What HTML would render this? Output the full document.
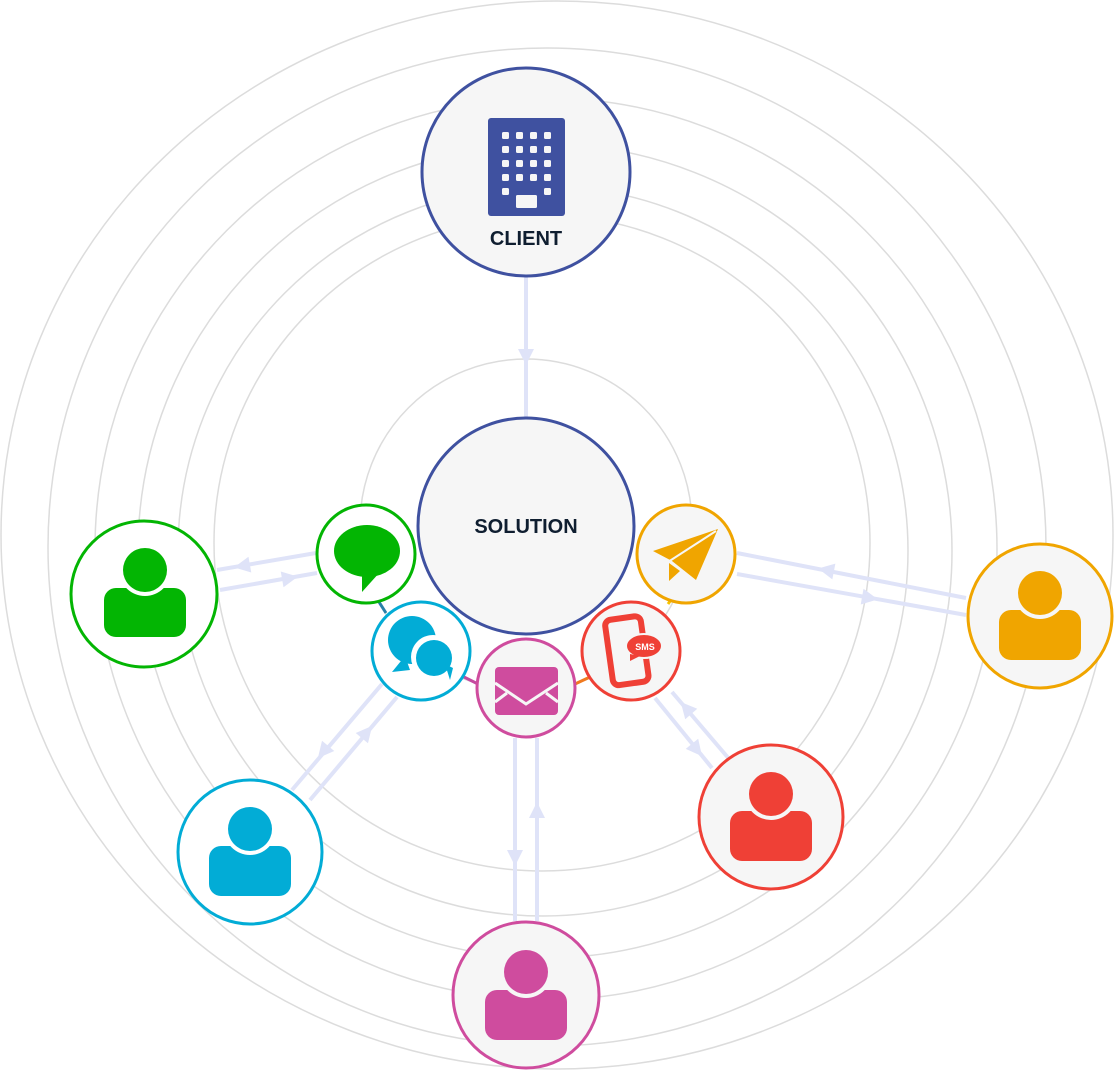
<!DOCTYPE html>
<html><head><meta charset="utf-8"><style>
html,body{margin:0;padding:0;background:#fff;}
svg{display:block;}
</style></head><body>
<svg width="1115" height="1071" viewBox="0 0 1115 1071" xmlns="http://www.w3.org/2000/svg">
<g fill="none" stroke="#dcdcdc" stroke-width="1.5">
<ellipse cx="557" cy="535" rx="556" ry="534"/>
<circle cx="547" cy="547" r="499"/>
<circle cx="546" cy="549" r="451"/>
<circle cx="545" cy="551" r="407"/>
<circle cx="543" cy="551" r="365"/>
<circle cx="542" cy="543" r="328"/>
<circle cx="526" cy="525" r="166"/>
</g>
<g stroke="#dfe3f8" stroke-width="4" fill="none">
<line x1="526" y1="277" x2="526" y2="417"/>
<line x1="316" y1="553" x2="217" y2="570"/>
<line x1="220" y1="590" x2="317" y2="573"/>
<line x1="966" y1="598" x2="737" y2="553"/>
<line x1="737" y1="574" x2="966" y2="615"/>
<line x1="382" y1="684" x2="292" y2="790"/>
<line x1="310" y1="800" x2="397" y2="697"/>
<line x1="515" y1="738" x2="515" y2="921"/>
<line x1="537" y1="738" x2="537" y2="921"/>
<line x1="655" y1="698" x2="712" y2="768"/>
<line x1="730" y1="760" x2="672" y2="692"/>
</g>
<g fill="#dfe3f8">
<polygon points="-8,-8 8,0 -8,8" transform="translate(526,357) rotate(90)"/>
<polygon points="-8,-8 8,0 -8,8" transform="translate(242,566) rotate(170)"/>
<polygon points="-8,-8 8,0 -8,8" transform="translate(290,578) rotate(-10)"/>
<polygon points="-8,-8 8,0 -8,8" transform="translate(826,570) rotate(191)"/>
<polygon points="-8,-8 8,0 -8,8" transform="translate(870,598) rotate(10)"/>
<polygon points="-8,-8 8,0 -8,8" transform="translate(323,752) rotate(130)"/>
<polygon points="-8,-8 8,0 -8,8" transform="translate(367,732) rotate(-50)"/>
<polygon points="-8,-8 8,0 -8,8" transform="translate(515,858) rotate(90)"/>
<polygon points="-8,-8 8,0 -8,8" transform="translate(537,810) rotate(-90)"/>
<polygon points="-8,-8 8,0 -8,8" transform="translate(697,750) rotate(51)"/>
<polygon points="-8,-8 8,0 -8,8" transform="translate(686,708) rotate(229)"/>
</g>
<!-- small connectors -->
<line x1="379" y1="602" x2="386" y2="613" stroke="#2a7fa8" stroke-width="3"/>
<line x1="462" y1="676" x2="478" y2="684" stroke="#c44aa0" stroke-width="3"/>
<line x1="575" y1="684" x2="590" y2="677" stroke="#f07a20" stroke-width="3"/>
<line x1="668" y1="604" x2="674" y2="596" stroke="#f5c400" stroke-width="3"/>
<!-- client -->
<circle cx="526" cy="172" r="104" fill="#f6f6f6" stroke="#3f51a0" stroke-width="3"/>
<rect x="488" y="118" width="77" height="98" rx="3" fill="#3f51a0"/>
<g fill="#f6f6f6">
<rect x="502" y="132" width="7" height="7" rx="1.5"/><rect x="516" y="132" width="7" height="7" rx="1.5"/><rect x="530" y="132" width="7" height="7" rx="1.5"/><rect x="544" y="132" width="7" height="7" rx="1.5"/>
<rect x="502" y="146" width="7" height="7" rx="1.5"/><rect x="516" y="146" width="7" height="7" rx="1.5"/><rect x="530" y="146" width="7" height="7" rx="1.5"/><rect x="544" y="146" width="7" height="7" rx="1.5"/>
<rect x="502" y="160" width="7" height="7" rx="1.5"/><rect x="516" y="160" width="7" height="7" rx="1.5"/><rect x="530" y="160" width="7" height="7" rx="1.5"/><rect x="544" y="160" width="7" height="7" rx="1.5"/>
<rect x="502" y="174" width="7" height="7" rx="1.5"/><rect x="516" y="174" width="7" height="7" rx="1.5"/><rect x="530" y="174" width="7" height="7" rx="1.5"/><rect x="544" y="174" width="7" height="7" rx="1.5"/>
<rect x="502" y="188" width="7" height="7" rx="1.5"/><rect x="544" y="188" width="7" height="7" rx="1.5"/>
<rect x="516" y="195" width="21" height="13" rx="1.5"/>
</g>
<text x="526" y="245" text-anchor="middle" font-family="Liberation Sans, sans-serif" font-weight="bold" font-size="20" fill="#0f1e30">CLIENT</text>
<!-- solution -->
<circle cx="526" cy="526" r="108" fill="#f6f6f6" stroke="#3f51a0" stroke-width="3"/>
<text x="526" y="533" text-anchor="middle" font-family="Liberation Sans, sans-serif" font-weight="bold" font-size="20" fill="#0f1e30">SOLUTION</text>
<!-- green chat -->
<circle cx="366" cy="554" r="49" fill="#fff" stroke="#03b503" stroke-width="3"/>
<ellipse cx="367" cy="551" rx="33" ry="26" fill="#03b503"/>
<polygon points="362,570 380,572 362,592" fill="#03b503"/>
<!-- cyan -->
<circle cx="421" cy="651" r="49" fill="#fff" stroke="#02acd6" stroke-width="3"/>
<circle cx="412" cy="640" r="24" fill="#02acd6"/>
<polygon points="392,672 405,656 410,670" fill="#02acd6"/>
<circle cx="433" cy="657" r="22" fill="#fff"/>
<circle cx="434" cy="658" r="18" fill="#02acd6"/>
<polygon points="450,680 445,664 453,668" fill="#02acd6"/>
<!-- pink email -->
<circle cx="526" cy="688" r="49" fill="#f6f6f6" stroke="#cf4c9e" stroke-width="3"/>
<rect x="495" y="667" width="63" height="48" rx="4" fill="#cf4c9e"/>
<polyline points="495,683 526,704 558,683" fill="none" stroke="#f6f6f6" stroke-width="3"/>
<line x1="495" y1="702" x2="507" y2="693" stroke="#f6f6f6" stroke-width="3"/>
<line x1="558" y1="702" x2="546" y2="693" stroke="#f6f6f6" stroke-width="3"/>
<!-- red sms -->
<circle cx="631" cy="651" r="49" fill="#f6f6f6" stroke="#ef4036" stroke-width="3"/>
<g transform="rotate(-8 625 652)">
<rect x="609" y="618" width="36" height="66" rx="6" fill="none" stroke="#ef4036" stroke-width="6"/>
<rect x="622" y="674" width="10" height="3" fill="#f6f6f6"/>
</g>
<ellipse cx="644" cy="646" rx="18" ry="12" fill="#ef4036" stroke="#f6f6f6" stroke-width="2"/>
<polygon points="630,654 640,656 630,661" fill="#ef4036"/>
<text x="645" y="650" text-anchor="middle" font-family="Liberation Sans, sans-serif" font-weight="bold" font-size="9" fill="#fff">SMS</text>
<!-- orange plane -->
<circle cx="686" cy="554" r="49" fill="#f6f6f6" stroke="#f0a500" stroke-width="3"/>
<polygon points="653,551 718,529 696,580 672,561" fill="#f0a500"/>
<polygon points="669,563 680,571 669,581" fill="#f0a500"/>
<line x1="668" y1="562" x2="716" y2="531" stroke="#f6f6f6" stroke-width="2"/>
<!-- person nodes -->
<g>
<circle cx="144" cy="594" r="73" fill="#fff" stroke="#03b503" stroke-width="3"/>
<rect x="104" y="588" width="82" height="49" rx="12" fill="#03b503"/>
<circle cx="145" cy="570" r="26" fill="#fff"/><circle cx="145" cy="570" r="22" fill="#03b503"/>
</g>
<g>
<circle cx="1040" cy="616" r="72" fill="#f6f6f6" stroke="#f0a500" stroke-width="3"/>
<rect x="999" y="610" width="82" height="50" rx="12" fill="#f0a500"/>
<circle cx="1040" cy="593" r="26" fill="#f6f6f6"/><circle cx="1040" cy="593" r="22" fill="#f0a500"/>
</g>
<g>
<circle cx="771" cy="817" r="72" fill="#f6f6f6" stroke="#ef4036" stroke-width="3"/>
<rect x="730" y="811" width="82" height="50" rx="12" fill="#ef4036"/>
<circle cx="771" cy="794" r="26" fill="#f6f6f6"/><circle cx="771" cy="794" r="22" fill="#ef4036"/>
</g>
<g>
<circle cx="250" cy="852" r="72" fill="#fff" stroke="#02acd6" stroke-width="3"/>
<rect x="209" y="846" width="82" height="50" rx="12" fill="#02acd6"/>
<circle cx="250" cy="829" r="26" fill="#fff"/><circle cx="250" cy="829" r="22" fill="#02acd6"/>
</g>
<g>
<circle cx="526" cy="995" r="73" fill="#f6f6f6" stroke="#cf4c9e" stroke-width="3"/>
<rect x="485" y="990" width="82" height="50" rx="12" fill="#cf4c9e"/>
<circle cx="526" cy="972" r="26" fill="#f6f6f6"/><circle cx="526" cy="972" r="22" fill="#cf4c9e"/>
</g>
</svg>
</body></html>
